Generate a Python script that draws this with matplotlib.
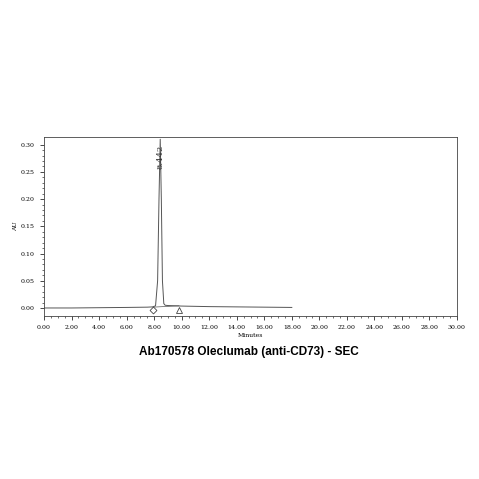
import matplotlib
matplotlib.use("Agg")
import matplotlib.pyplot as plt

# chromatogram trace (minutes, AU)
time_min = [0.0, 2.0, 4.0, 6.0, 7.5, 7.9, 8.1, 8.25, 8.35, 8.44, 8.52, 8.6, 8.7, 8.8, 9.0,
            9.5, 10.0, 11.0, 12.0, 14.0, 16.0, 18.0]
absorb = [0.0, 0.0, 0.0005, 0.001, 0.0015, 0.002, 0.004, 0.05, 0.2, 0.31, 0.2, 0.05,
          0.008, 0.005, 0.0045, 0.004, 0.0035, 0.003, 0.0025, 0.002, 0.0015, 0.001]
peak_label = "8.442"
peak_time = 8.442
start_mark = (7.9, -0.004)
end_mark = (9.8, -0.004)
title = "Ab170578 Oleclumab (anti-CD73) - SEC"
xticks = [i * 2.0 for i in range(16)]
yticks = [0.0, 0.05, 0.10, 0.15, 0.20, 0.25, 0.30]

fig = plt.figure(figsize=(4.79, 4.79), dpi=100)
ax = fig.add_axes([0.092, 0.34, 0.862, 0.375])
ax.plot(time_min, absorb, color="#555555", linewidth=0.7)
ax.plot([start_mark[0], end_mark[0]], [0.0015, 0.004], color="#555555", linewidth=0.5)
ax.plot(*start_mark, marker="D", markersize=3.5, mfc="white", mec="#444444", mew=0.6)
ax.plot(*end_mark, marker="^", markersize=4.5, mfc="white", mec="#444444", mew=0.6)
ax.text(peak_time, 0.255, peak_label, rotation=90, fontsize=6, family="serif",
        ha="center", va="bottom", color="#333333")

ax.set_xlim(0, 30)
ax.set_ylim(-0.015, 0.315)
ax.set_xticks(xticks)
ax.set_xticklabels([f"{t:.2f}" for t in xticks], family="serif", fontsize=4.5)
ax.set_yticks(yticks)
ax.set_yticklabels([f"{t:.2f}" for t in yticks], family="serif", fontsize=4.5)
ax.set_xticks([i * 0.5 for i in range(61)], minor=True)
ax.set_yticks([i * 0.01 for i in range(31)], minor=True)
ax.tick_params(which="major", length=3, width=0.5)
ax.tick_params(which="minor", length=1.5, width=0.4)
ax.set_xlabel("Minutes", family="serif", fontsize=4.5, labelpad=2)
ax.set_ylabel("AU", family="serif", fontsize=4.5, labelpad=2)
for s in ax.spines.values():
    s.set_linewidth(0.6)
    s.set_color("#444444")

fig.text(0.52, 0.265, title, ha="center", va="center", fontsize=8.5, fontweight="bold",
         family="Liberation Sans")
fig.savefig("out.png", dpi=100)
